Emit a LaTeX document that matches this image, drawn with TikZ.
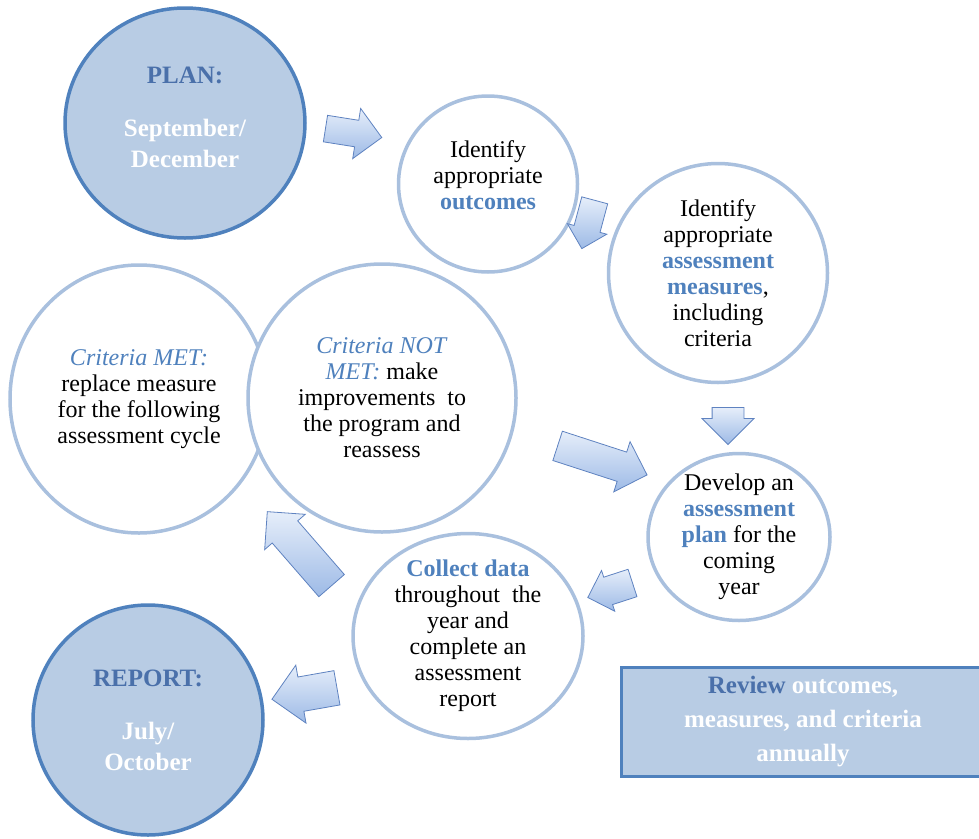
\documentclass[tikz,border=0pt]{standalone}
\usepackage{fontspec}
\setmainfont{Liberation Serif}
\usepackage{xcolor}
\usepackage{tikz}
\usetikzlibrary{shapes.geometric,shapes.arrows}
\definecolor{fillblue}{HTML}{B8CCE4}
\definecolor{edgeblue}{HTML}{4F81BD}
\definecolor{ringblue}{HTML}{A9C0DE}
\definecolor{textblue}{HTML}{4F81BD}
\definecolor{headblue}{HTML}{4A70AA}
\definecolor{arrowtop}{HTML}{E6EEFA}
\definecolor{arrowbot}{HTML}{9DBAE6}
\definecolor{arrowedge}{HTML}{5E82C0}
\newcommand{\hi}[1]{\textcolor{textblue}{\textbf{#1}}}
\newcommand{\crit}[1]{\textcolor{textblue}{\textit{#1}}}
\newcommand{\hd}[1]{\textcolor{headblue}{#1}}

\begin{document}
\begin{tikzpicture}
    [
    x=1pt, y=-1pt,
    season/.style = {ellipse,draw=edgeblue,line width=3.5pt,fill=fillblue,inner sep=-30pt,align=center,text=white,font=\rmfamily\fontsize{25}{31}\selectfont\bfseries},
    stage/.style = {ellipse,draw=ringblue,line width=3.5pt,fill=white,inner sep=-30pt,align=center,font=\rmfamily\fontsize{24}{26}\selectfont},
    blockarrow/.style = {single arrow,draw=arrowedge,line width=0.8pt,top color=arrowtop,bottom color=arrowbot,inner xsep=0pt}
    ]
\useasboundingbox (0,0) rectangle (979,838);

\node[season,minimum width=240pt,minimum height=230pt] (plan) at (185,123)
    {\hd{PLAN:}\\[22pt] September/\\ December\\[-19pt] \mbox{}};
\node[season,minimum width=230pt,minimum height=230pt] (report) at (148,720)
    {\hd{REPORT:}\\[22pt] July/\\ October};

\node[stage,minimum width=179pt,minimum height=176pt] (outcomes) at (488,184)
    {Identify\\ appropriate\\ \hi{outcomes}\\[-8pt] \mbox{}};
\node[stage,minimum width=219pt,minimum height=219pt] (measures) at (718,273)
    {Identify\\ appropriate\\ \hi{assessment}\\ \hi{measures}, \\ including\\ criteria};
\node[stage,minimum width=182pt,minimum height=167pt] (develop) at (739,537)
    {Develop an\\ \hi{assessment}\\ \hi{plan} for the\\ coming\\ year};
\node[stage,minimum width=230pt,minimum height=205pt] (collect) at (468,636)
    {\hi{Collect data}\\ throughout\ \ the\\ year and\\ complete an\\ assessment\\ report};
\node[stage,minimum width=258pt,minimum height=268pt] (met) at (139,399)
    {\crit{Criteria MET:}\\ replace measure\\ for the following\\ assessment cycle};
\node[stage,minimum width=268pt,minimum height=268pt] (notmet) at (382,398)
    {\crit{Criteria NOT}\\ \crit{MET:} make\\ improvements\ \ to\\ the program and\\ reassess};

\node[blockarrow,minimum height=57pt,inner ysep=13pt,single arrow head extend=12pt,rotate=-9] (a1) at (347,132) {};
\node[blockarrow,minimum height=50pt,inner ysep=13pt,single arrow head extend=7pt,rotate=-105] (a2) at (590,218) {};
\node[blockarrow,minimum height=37pt,inner ysep=15.5pt,single arrow head extend=10pt,rotate=-90] (a3) at (728,418) {};
\node[blockarrow,minimum height=94pt,inner ysep=15pt,single arrow head extend=11pt,rotate=-18] (a4) at (595,458) {};
\node[blockarrow,minimum height=47pt,inner ysep=14pt,single arrow head extend=7pt,rotate=198] (a5) at (617,588) {};
\node[blockarrow,minimum height=98pt,inner ysep=16.5pt,single arrow head extend=10pt,rotate=131] (a6) at (305,555) {};
\node[blockarrow,minimum height=66pt,inner ysep=17pt,single arrow head extend=12pt,rotate=190] (a7) at (313,692) {};

\node[draw=edgeblue,line width=3.5pt,fill=fillblue,minimum width=363pt,minimum height=109pt,inner sep=0pt,align=center,text=white,font=\rmfamily\fontsize{25}{34}\selectfont\bfseries] (review) at (803,722)
    {\hd{Review} outcomes,\\ measures, and criteria\\ annually};

\end{tikzpicture}
\end{document}
